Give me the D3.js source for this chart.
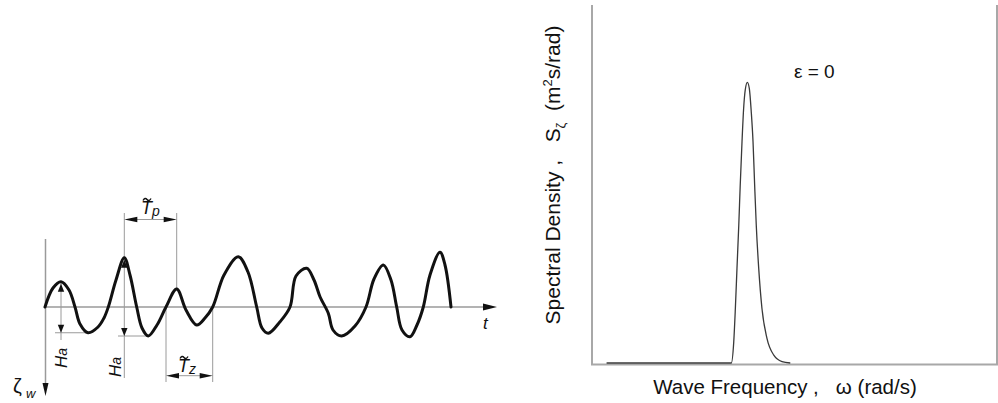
<!DOCTYPE html>
<html><head><meta charset="utf-8">
<script src="https://cdn.jsdelivr.net/npm/d3@7/dist/d3.min.js"></script>
<style>
body{margin:0;background:#fff;overflow:hidden}
text{font-family:"Liberation Sans",Arial,Helvetica,sans-serif;fill:#111}
</style>
</head><body>
<svg id="c" width="998" height="403"></svg>
<script>
// ---------- Left panel: wave elevation record ----------
const waveT = [0,0.8,1.6,2.4,3.0,3.5,4.3,5.3,5.9,6.33,7.1,7.93,8.5,9.17,9.7,10.33,11.2,12.1,13.17,14.1,15.17,16.0,16.77,17.9,19.33,20.3,21.17,21.7,22.33,23.5,24.5,25.1,26.17,26.9,27.5,28.33,28.8,29.67,31.0,32.1,32.9,33.83,34.6,35.17,35.7,36.5,37.2,37.83,38.5,39.5,40.0,40.6];
const waveZeta = [0,0.76,1.01,0.68,0,-0.68,-1.03,-0.8,-0.44,0,1.08,1.97,1.28,0,-0.84,-1.16,-0.72,0,0.72,-0.12,-0.72,-0.44,0,1.28,2.01,1.4,0,-0.84,-1.05,-0.59,0,1.24,1.55,1.08,0.41,-0.25,-0.92,-1.16,-0.76,0,1.12,1.68,1.08,0,-0.92,-1.19,-0.72,0,1.28,2.19,1.68,0];
const haT = [1.6, 7.93];
const haCrest = [1.01, 1.97];
const haTrough = [-1.03, -1.16];
const tpSpan = [7.93, 13.17];
const tzSpan = [12.1, 16.77];

// ---------- Right panel: spectral density ----------
const omega = [0.09,0.86,0.875,0.885,0.895,0.906,0.915,0.926,0.936,0.946,0.959,0.971,0.983,0.994,1.004,1.014,1.029,1.049,1.080,1.122,1.173,1.224];
const spectrum = [0,0,0.059,0.153,0.265,0.385,0.497,0.618,0.711,0.763,0.784,0.767,0.702,0.618,0.497,0.385,0.265,0.153,0.069,0.022,0.004,0];
const epsilonLabel = "ε = 0";

const svg = d3.select("#c");
svg.append("rect").attr("width",998).attr("height",403).attr("fill","#fff");

const xT = d3.scaleLinear().domain([0,44]).range([45,485]);
const yZ = d3.scaleLinear().domain([-3,3]).range([382,232]);

const GREY = "#9a9a9a";
function tri(x,y,dir,len,hw){
  let p;
  if(dir==="right") p=[[x,y],[x-len,y-hw],[x-len,y+hw]];
  if(dir==="left")  p=[[x,y],[x+len,y-hw],[x+len,y+hw]];
  if(dir==="up")    p=[[x,y],[x-hw,y+len],[x+hw,y+len]];
  if(dir==="down")  p=[[x,y],[x-hw,y-len],[x+hw,y-len]];
  svg.append("path").attr("d","M"+p.map(d=>d.join(",")).join("L")+"Z").attr("fill","#111");
}
function gline(x1,y1,x2,y2,w){
  svg.append("line").attr("x1",x1).attr("y1",y1).attr("x2",x2).attr("y2",y2)
    .attr("stroke",GREY).attr("stroke-width",w||1);
}
function tildeT(x,y,sub){
  // italic T with a wavy accent drawn as a path, plus subscript
  svg.append("text").attr("x",x).attr("y",y).attr("font-size",18).attr("font-style","italic").text("T");
  const tx = x+2, ty = y-15;
  svg.append("path").attr("d",`M${tx},${ty+1.5}q2,-3.5 4,-1 t4,-1`).attr("fill","none")
    .attr("stroke","#111").attr("stroke-width",1.4);
  svg.append("text").attr("x",x+11).attr("y",y+2).attr("font-size",14).attr("font-style","italic").text(sub);
}

// axes
const y0 = yZ(0);
gline(xT(0), y0, 485, y0, 1.5);
tri(497, y0, "right", 14, 3.6);
gline(xT(0)+0.5, 239, xT(0)+0.5, 386, 1.5);
tri(xT(0)+0.5, 396, "down", 13, 3);
svg.append("text").attr("x",483).attr("y",329).attr("font-size",17).attr("font-style","italic").text("t");
svg.append("text").attr("x",13).attr("y",393).attr("font-size",20).text("ζ");
svg.append("text").attr("x",26).attr("y",398).attr("font-size",13).attr("font-style","italic").text("w");

function haLabel(x,y){
  const t = svg.append("text").attr("transform",`translate(${x},${y}) rotate(-90)`).attr("font-style","italic");
  t.append("tspan").attr("font-size",17).text("H");
  t.append("tspan").attr("font-size",14).text("a");
}
// Ha left
{
  const x = xT(haT[0]), yc = yZ(haCrest[0]), yt = yZ(haTrough[0]);
  gline(x, yc, x, 340);
  gline(55, yt, xT(4.3), yt);
  tri(x, yc+2, "up", 8, 3.2);
  tri(x, yt, "down", 8, 3.2);
  haLabel(x+6, 368);
}
// Ha middle
{
  const x = xT(haT[1]), yc = yZ(haCrest[1]), yt = yZ(haTrough[1]);
  gline(x, 213, x, 378);
  gline(118, yt, xT(10.33), yt);
  tri(x, yc+2, "up", 8, 3.2);
  tri(x, yt, "down", 8, 3.2);
  haLabel(x-3, 377);
}
// Tp
{
  const xa = xT(tpSpan[0]), xb = xT(tpSpan[1]), yd = 219.5;
  gline(xb, 213, xb, yZ(0.72));
  gline(xa+12, yd, xb-12, yd);
  tri(xa, yd, "left", 13, 2.8);
  tri(xb, yd, "right", 13, 2.8);
  tildeT(141, 214, "p");
}
// Tz
{
  const xa = xT(tzSpan[0]), xb = xT(tzSpan[1]), yd = 375.7;
  gline(xa, y0, xa, 382);
  gline(xb, y0, xb, 382);
  gline(xa+12, yd, xb-12, yd);
  tri(xa, yd, "left", 13, 2.8);
  tri(xb, yd, "right", 13, 2.8);
  tildeT(178, 372, "z");
}

// wave
const waveLine = d3.line().x((d,i)=>xT(waveT[i])).y((d,i)=>yZ(waveZeta[i])).curve(d3.curveCatmullRom.alpha(0.5));
svg.append("path").datum(waveT).attr("d",waveLine).attr("fill","none").attr("stroke","#111")
  .attr("stroke-width",3).attr("stroke-linejoin","round").attr("stroke-linecap","round");

// ---------- Right panel ----------
const xW = d3.scaleLinear().domain([0,2.5]).range([592,997]);
const yS = d3.scaleLinear().domain([0,1]).range([363,5]);
const RG = "#a8a8a8";
svg.append("path").attr("d",`M${xW(0)},${yS(1)}V${yS(0)+1.5}H${xW(2.5)}V${yS(1)}`)
  .attr("fill","none").attr("stroke",RG).attr("stroke-width",2);

const specLine = d3.line().x((d,i)=>xW(omega[i])).y((d,i)=>yS(spectrum[i])).curve(d3.curveMonotoneX);
svg.append("path").datum(omega).attr("d",specLine).attr("fill","none").attr("stroke","#3a3a3a").attr("stroke-width",1.3);

svg.append("text").attr("x",794).attr("y",78).attr("font-size",19).text(epsilonLabel);

svg.append("text").attr("x",785).attr("y",394).attr("text-anchor","middle").attr("font-size",20.5)
  .attr("xml:space","preserve").text("Wave Frequency ,   ω (rad/s)");

const yl = svg.append("text").attr("transform","translate(560,175) rotate(-90)").attr("text-anchor","middle").attr("font-size",21)
  .attr("xml:space","preserve");
yl.append("tspan").text("Spectral Density ,   S");
yl.append("tspan").attr("font-size",13).attr("dy",5).text("ζ");
yl.append("tspan").attr("dy",-5).text("  (m");
yl.append("tspan").attr("font-size",13).attr("dy",-8).text("2");
yl.append("tspan").attr("dy",8).text("s/rad)");
</script>
</body></html>
